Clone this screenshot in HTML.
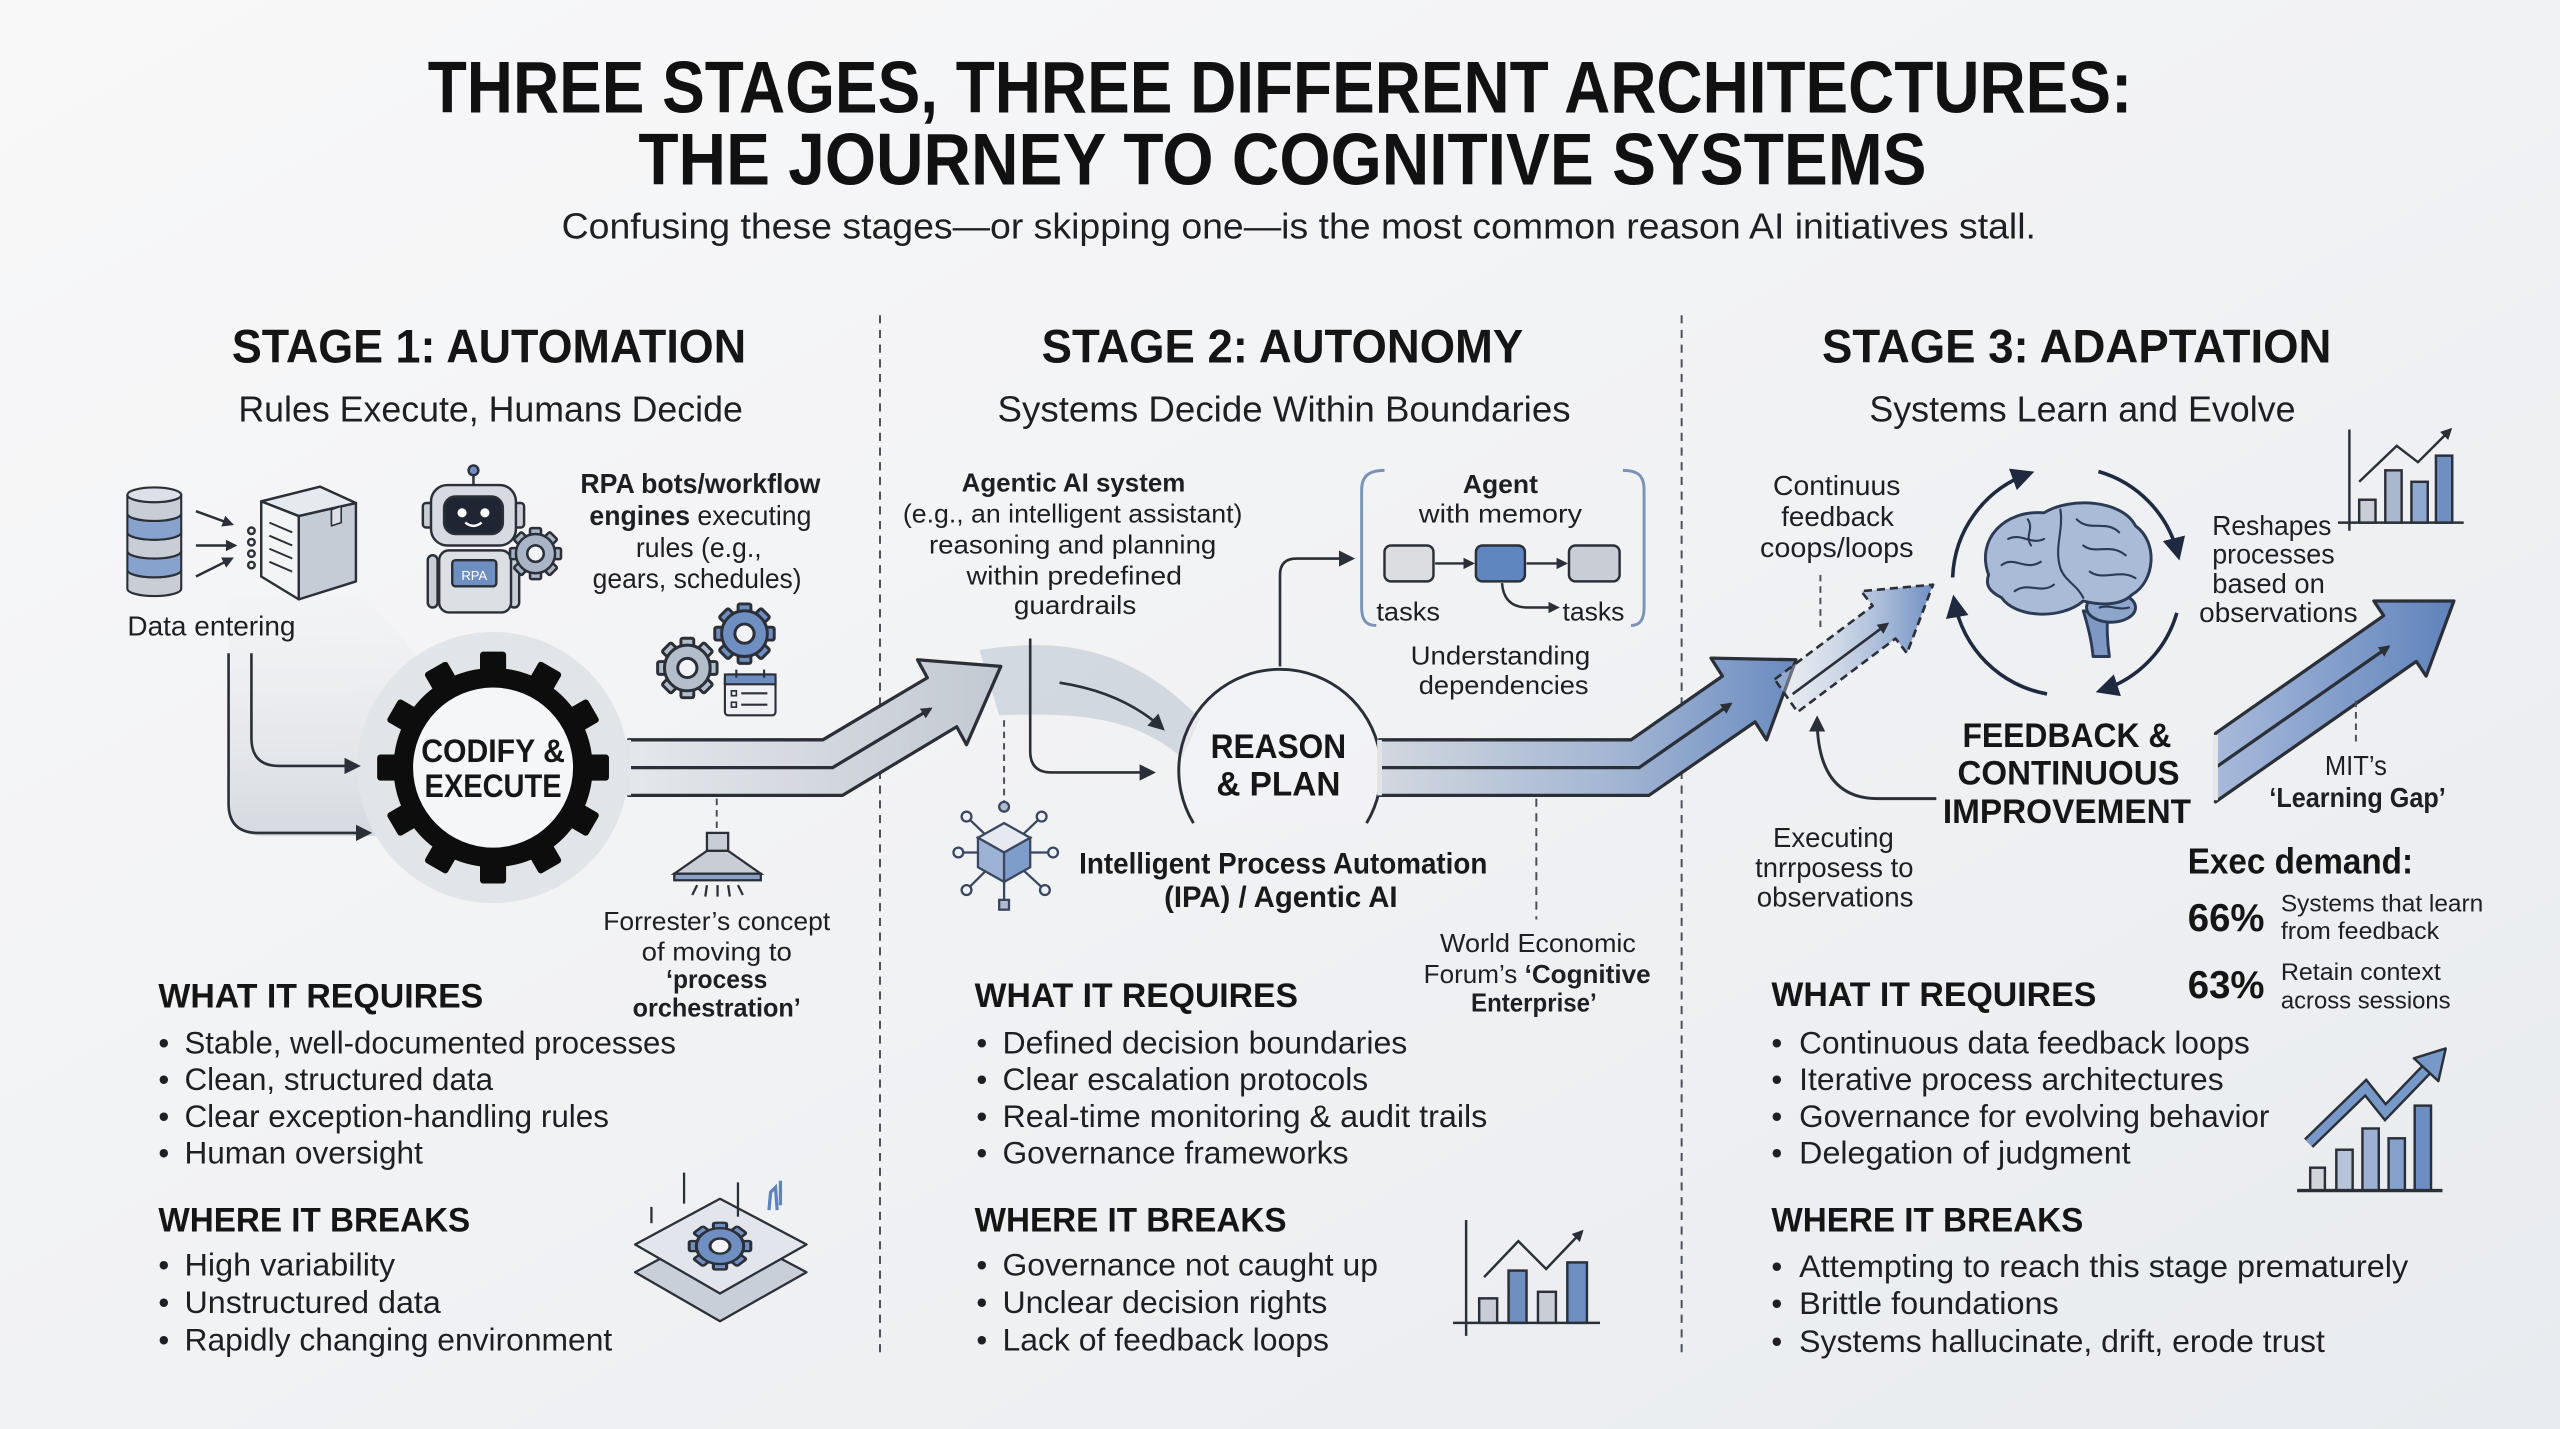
<!DOCTYPE html>
<html>
<head>
<meta charset="utf-8">
<style>
html,body{margin:0;padding:0;background:#f1f2f5;}
svg{display:block;}
</style>
</head>
<body>
<svg xmlns="http://www.w3.org/2000/svg" xmlns:xlink="http://www.w3.org/1999/xlink" width="2560" height="1429" viewBox="0 0 1568 875" preserveAspectRatio="none" font-family="'Liberation Sans', Arial, sans-serif" fill="#1d1f23">
<defs>
  <linearGradient id="bg" x1="0" y1="0" x2="1" y2="1">
    <stop offset="0" stop-color="#f8f8f9"/>
    <stop offset="0.5" stop-color="#f1f2f4"/>
    <stop offset="1" stop-color="#e8ebef"/>
  </linearGradient>
  <linearGradient id="shade1" x1="0" y1="0" x2="0" y2="1">
    <stop offset="0" stop-color="#eceef1" stop-opacity="0.2"/>
    <stop offset="1" stop-color="#d5d9df"/>
  </linearGradient>
  <linearGradient id="b1" gradientUnits="userSpaceOnUse" x1="385" y1="0" x2="615" y2="0">
    <stop offset="0" stop-color="#e4e7eb"/>
    <stop offset="1" stop-color="#c3c9d2"/>
  </linearGradient>
  <linearGradient id="b2" gradientUnits="userSpaceOnUse" x1="845" y1="0" x2="1100" y2="0">
    <stop offset="0" stop-color="#d3d8df"/>
    <stop offset="0.6" stop-color="#9fb3d2"/>
    <stop offset="1" stop-color="#6a8bc0"/>
  </linearGradient>
  <linearGradient id="b3" gradientUnits="userSpaceOnUse" x1="1357" y1="0" x2="1503" y2="0">
    <stop offset="0" stop-color="#a8badb"/>
    <stop offset="1" stop-color="#5f83bb"/>
  </linearGradient>
  <linearGradient id="b4" gradientUnits="userSpaceOnUse" x1="1087" y1="0" x2="1184" y2="0">
    <stop offset="0" stop-color="#e2e7ef" stop-opacity="0.3"/>
    <stop offset="1" stop-color="#6e8fc2"/>
  </linearGradient>
  <marker id="ah" viewBox="0 0 10 10" refX="8" refY="5" markerWidth="10" markerHeight="10" markerUnits="userSpaceOnUse" orient="auto">
    <path d="M0,0 L10,5 L0,10 z" fill="#2b2f38"/>
  </marker>
  <marker id="ahs" viewBox="0 0 10 10" refX="8" refY="5" markerWidth="7" markerHeight="7" markerUnits="userSpaceOnUse" orient="auto">
    <path d="M0,0 L10,5 L0,10 z" fill="#2b2f38"/>
  </marker>
  <marker id="ahb" viewBox="0 0 10 10" refX="7" refY="5" markerWidth="14" markerHeight="14" markerUnits="userSpaceOnUse" orient="auto">
    <path d="M0,0 L10,5 L0,10 z" fill="#1f2a40"/>
  </marker>
  <g id="gear8" stroke="#2b2f38" stroke-width="1.3">
    <rect x="-2.8" y="-13" width="5.6" height="6" rx="0.8"/>
    <rect x="-2.8" y="-13" width="5.6" height="6" rx="0.8" transform="rotate(45)"/>
    <rect x="-2.8" y="-13" width="5.6" height="6" rx="0.8" transform="rotate(90)"/>
    <rect x="-2.8" y="-13" width="5.6" height="6" rx="0.8" transform="rotate(135)"/>
    <rect x="-2.8" y="-13" width="5.6" height="6" rx="0.8" transform="rotate(180)"/>
    <rect x="-2.8" y="-13" width="5.6" height="6" rx="0.8" transform="rotate(225)"/>
    <rect x="-2.8" y="-13" width="5.6" height="6" rx="0.8" transform="rotate(270)"/>
    <rect x="-2.8" y="-13" width="5.6" height="6" rx="0.8" transform="rotate(315)"/>
    <circle r="10"/>
    <circle r="4.2" fill="#f2f3f6"/>
  </g>
</defs>

<rect x="0" y="0" width="1568" height="875" fill="url(#bg)"/>

<!-- TITLE -->
<text x="784" y="69" font-size="45" font-weight="bold" text-anchor="middle" textLength="1044" lengthAdjust="spacingAndGlyphs" fill="#111">THREE STAGES, THREE DIFFERENT ARCHITECTURES:</text>
<text x="785.5" y="113" font-size="45" font-weight="bold" text-anchor="middle" textLength="789" lengthAdjust="spacingAndGlyphs" fill="#111">THE JOURNEY TO COGNITIVE SYSTEMS</text>
<text x="795.5" y="146" font-size="22" text-anchor="middle" textLength="903" lengthAdjust="spacingAndGlyphs">Confusing these stages—or skipping one—is the most common reason AI initiatives stall.</text>

<!-- DIVIDERS -->
<g stroke="#4a4e56" stroke-width="1.2" stroke-dasharray="5,4" fill="none">
  <line x1="539" y1="193" x2="539" y2="831"/>
  <line x1="1030" y1="193" x2="1030" y2="831"/>
</g>

<!-- STAGE HEADINGS -->
<g font-weight="bold" font-size="29" text-anchor="middle" fill="#151515">
  <text x="299.5" y="222" textLength="315" lengthAdjust="spacingAndGlyphs">STAGE 1: AUTOMATION</text>
  <text x="785.5" y="222" textLength="295" lengthAdjust="spacingAndGlyphs">STAGE 2: AUTONOMY</text>
  <text x="1272" y="222" textLength="312" lengthAdjust="spacingAndGlyphs">STAGE 3: ADAPTATION</text>
</g>
<g font-size="22" text-anchor="middle">
  <text x="300.5" y="258" textLength="309" lengthAdjust="spacingAndGlyphs">Rules Execute, Humans Decide</text>
  <text x="786.5" y="258" textLength="351" lengthAdjust="spacingAndGlyphs">Systems Decide Within Boundaries</text>
  <text x="1275.5" y="258" textLength="261" lengthAdjust="spacingAndGlyphs">Systems Learn and Evolve</text>
</g>

<!-- ================= STAGE 1 ================= -->
<!-- shading -->
<path d="M140,366 L222,366 C238,380 252,396 262,412 L262,512 L162,512 Q140,512 140,490 Z" fill="url(#shade1)"/>
<circle cx="302" cy="470" r="83" fill="#e1e4e8"/>

<!-- database -->
<g stroke="#2b2f38" stroke-width="1.3">
  <path d="M78,349 v11.5 a16.5,4.5 0 0 0 33,0 v-11.5 a16.5,4.5 0 0 1 -33,0 z" fill="#c9ced6"/>
  <path d="M78,337.5 v11.5 a16.5,4.5 0 0 0 33,0 v-11.5 a16.5,4.5 0 0 1 -33,0 z" fill="#86a2cd"/>
  <path d="M78,326 v11.5 a16.5,4.5 0 0 0 33,0 v-11.5 a16.5,4.5 0 0 1 -33,0 z" fill="#c9ced6"/>
  <path d="M78,314.5 v11.5 a16.5,4.5 0 0 0 33,0 v-11.5 a16.5,4.5 0 0 1 -33,0 z" fill="#86a2cd"/>
  <path d="M78,303 v11.5 a16.5,4.5 0 0 0 33,0 v-11.5 a16.5,4.5 0 0 1 -33,0 z" fill="#c9ced6"/>
  <ellipse cx="94.5" cy="303" rx="16.5" ry="4.5" fill="#dde1e7"/>
</g>
<!-- arrows into doc -->
<g stroke="#2b2f38" stroke-width="1.5" fill="none">
  <line x1="120" y1="313" x2="142" y2="321" marker-end="url(#ahs)"/>
  <line x1="120" y1="334" x2="144" y2="334" marker-end="url(#ahs)"/>
  <line x1="120" y1="353" x2="142" y2="342" marker-end="url(#ahs)"/>
  <circle cx="154" cy="325" r="2"/>
  <circle cx="154" cy="332" r="2"/>
  <circle cx="154" cy="339" r="2"/>
  <circle cx="154" cy="346" r="2"/>
</g>
<!-- box -->
<g stroke="#2b2f38" stroke-width="1.5" stroke-linejoin="round">
  <polygon points="160,307 196,298 218,308 183,316" fill="#e6e9ed"/>
  <polygon points="160,307 183,316 183,367 160,353" fill="#f3f4f6"/>
  <polygon points="183,316 218,308 218,356 183,367" fill="#c5ccd6"/>
  <g fill="none" stroke-width="1.2">
    <line x1="165" y1="320" x2="179" y2="326"/>
    <line x1="165" y1="328" x2="179" y2="334"/>
    <line x1="165" y1="336" x2="179" y2="342"/>
    <line x1="165" y1="344" x2="179" y2="350"/>
  </g>
  <polygon points="203,312 209,310 209,320 203,322" fill="#dde1e7" stroke-width="1"/>
</g>
<text x="78" y="389" font-size="17" textLength="103" lengthAdjust="spacingAndGlyphs">Data entering</text>

<!-- robot -->
<g stroke="#2b2f38" stroke-width="1.5">
  <line x1="290" y1="291" x2="290" y2="297"/>
  <circle cx="290" cy="288" r="3" fill="#6f8fc2"/>
  <rect x="259" y="308" width="6" height="15" rx="2" fill="#c9ced6"/>
  <rect x="315" y="308" width="6" height="15" rx="2" fill="#c9ced6"/>
  <rect x="264" y="297" width="52" height="37" rx="10" fill="#d7dbe1"/>
  <rect x="272" y="304" width="36" height="23" rx="7" fill="#1f2533"/>
  <rect x="262" y="340" width="6" height="32" rx="3" fill="#c9ced6"/>
  <rect x="312" y="340" width="6" height="32" rx="3" fill="#c9ced6"/>
  <rect x="269" y="337" width="44" height="38" rx="6" fill="#dcdfe4"/>
  <rect x="277" y="343" width="27" height="16" rx="2" fill="#6e8fc2"/>
</g>
<circle cx="283" cy="314" r="2.8" fill="#fff"/>
<circle cx="297" cy="314" r="2.8" fill="#fff"/>
<path d="M285,320 Q290,324 295,320" stroke="#fff" stroke-width="1.5" fill="none"/>
<text x="290.5" y="355" font-size="8" text-anchor="middle" fill="#fff">RPA</text>
<use xlink:href="#gear8" href="#gear8" transform="translate(328,339) scale(1.2)" fill="#a9b5c7"/>

<!-- RPA text -->
<g font-size="17" text-anchor="middle">
  <text x="429" y="302" font-weight="bold" textLength="147" lengthAdjust="spacingAndGlyphs">RPA bots/workflow</text>
  <text x="429" y="321.5" textLength="136" lengthAdjust="spacingAndGlyphs"><tspan font-weight="bold">engines</tspan> executing</text>
  <text x="428" y="341" textLength="77" lengthAdjust="spacingAndGlyphs">rules (e.g.,</text>
  <text x="427" y="360" textLength="128" lengthAdjust="spacingAndGlyphs">gears, schedules)</text>
</g>

<!-- gear icons -->
<use xlink:href="#gear8" href="#gear8" transform="translate(456,388) scale(1.4)" fill="#6f8fc2"/>
<use xlink:href="#gear8" href="#gear8" transform="translate(421,409) scale(1.4)" fill="#b4bdca"/>
<g stroke="#2b2f38" stroke-width="1.3">
  <rect x="444" y="413" width="31" height="25" rx="2" fill="#eef0f3"/>
  <rect x="444" y="413" width="31" height="6" fill="#6f8fc2"/>
  <line x1="451" y1="410" x2="451" y2="415"/>
  <line x1="468" y1="410" x2="468" y2="415"/>
  <rect x="448" y="423" width="3" height="3" fill="none" stroke-width="1"/>
  <rect x="448" y="430" width="3" height="3" fill="none" stroke-width="1"/>
  <line x1="454" y1="424.5" x2="470" y2="424.5"/>
  <line x1="454" y1="431.5" x2="470" y2="431.5"/>
</g>

<!-- lines from data to gear -->
<g stroke="#2b2f38" stroke-width="1.6" fill="none">
  <path d="M140,400 L140,492 Q140,510 158,510 L226,510" marker-end="url(#ah)"/>
  <path d="M154,400 L154,452 Q154,469 171,469 L219,469" marker-end="url(#ah)"/>
</g>

<!-- big gear -->
<g transform="translate(302,470)" fill="#0d0d0d">
  <rect x="-8" y="-71" width="16" height="20" rx="2"/>
  <rect x="-8" y="-71" width="16" height="20" rx="2" transform="rotate(30)"/>
  <rect x="-8" y="-71" width="16" height="20" rx="2" transform="rotate(60)"/>
  <rect x="-8" y="-71" width="16" height="20" rx="2" transform="rotate(90)"/>
  <rect x="-8" y="-71" width="16" height="20" rx="2" transform="rotate(120)"/>
  <rect x="-8" y="-71" width="16" height="20" rx="2" transform="rotate(150)"/>
  <rect x="-8" y="-71" width="16" height="20" rx="2" transform="rotate(180)"/>
  <rect x="-8" y="-71" width="16" height="20" rx="2" transform="rotate(210)"/>
  <rect x="-8" y="-71" width="16" height="20" rx="2" transform="rotate(240)"/>
  <rect x="-8" y="-71" width="16" height="20" rx="2" transform="rotate(270)"/>
  <rect x="-8" y="-71" width="16" height="20" rx="2" transform="rotate(300)"/>
  <rect x="-8" y="-71" width="16" height="20" rx="2" transform="rotate(330)"/>
  <circle r="61"/>
  <circle r="49" fill="#f5f6f8"/>
</g>
<g font-weight="bold" font-size="20" text-anchor="middle" fill="#161616">
  <text x="302" y="466.5" textLength="88" lengthAdjust="spacingAndGlyphs">CODIFY &amp;</text>
  <text x="302" y="488" textLength="84" lengthAdjust="spacingAndGlyphs">EXECUTE</text>
</g>

<!-- stage 2 swoosh (behind) -->
<path d="M600,398 C650,390 692,396 735,440 L724,464 C696,440 664,436 612,438 Z" fill="#cdd3dc" opacity="0.85"/>

<!-- band 1 -->
<polygon points="385,453 504,453 568,415 562,404 613,408 592,456 586,445 516,487 385,487" fill="url(#b1)" stroke="#2b2f38" stroke-width="2" stroke-linejoin="round"/>
<path d="M385,470 L510,470 L570,434" fill="none" stroke="#2b2f38" stroke-width="2" marker-end="url(#ahs)"/>
<line x1="385" y1="453" x2="385" y2="487" stroke="#e1e4e8" stroke-width="3"/>

<!-- lamp -->
<line x1="439" y1="489" x2="439" y2="510" stroke="#4a4e56" stroke-width="1.2" stroke-dasharray="4,3"/>
<g stroke="#2b2f38" stroke-width="1.4">
  <rect x="433" y="510" width="13" height="11" fill="#c9ced6"/>
  <polygon points="433,521 446,521 466,535 413,535" fill="#c9ced6"/>
  <rect x="413" y="535" width="53" height="4" fill="#8aa2c8"/>
  <line x1="427" y1="542" x2="424" y2="548"/>
  <line x1="433" y1="542" x2="432" y2="549"/>
  <line x1="439.5" y1="542" x2="439.5" y2="549"/>
  <line x1="446" y1="542" x2="447" y2="549"/>
  <line x1="452" y1="542" x2="455" y2="548"/>
</g>
<g font-size="16" text-anchor="middle">
  <text x="439" y="569.5" textLength="139" lengthAdjust="spacingAndGlyphs">Forrester’s concept</text>
  <text x="439" y="588" textLength="92" lengthAdjust="spacingAndGlyphs">of moving to</text>
  <text x="439" y="605" font-weight="bold" textLength="62" lengthAdjust="spacingAndGlyphs">‘process</text>
  <text x="439" y="622.5" font-weight="bold" textLength="103" lengthAdjust="spacingAndGlyphs">orchestration’</text>
</g>

<!-- stage 1 lists -->
<g font-size="21" font-weight="bold" fill="#151515">
  <text x="97" y="617" textLength="199" lengthAdjust="spacingAndGlyphs">WHAT IT REQUIRES</text>
  <text x="97" y="754" textLength="191" lengthAdjust="spacingAndGlyphs">WHERE IT BREAKS</text>
</g>
<g font-size="19">
  <text x="97" y="645">•</text><text x="113" y="645" textLength="301" lengthAdjust="spacingAndGlyphs">Stable, well-documented processes</text>
  <text x="97" y="667.5">•</text><text x="113" y="667.5" textLength="189" lengthAdjust="spacingAndGlyphs">Clean, structured data</text>
  <text x="97" y="690">•</text><text x="113" y="690" textLength="260" lengthAdjust="spacingAndGlyphs">Clear exception-handling rules</text>
  <text x="97" y="712.5">•</text><text x="113" y="712.5" textLength="146" lengthAdjust="spacingAndGlyphs">Human oversight</text>
  <text x="97" y="781">•</text><text x="113" y="781" textLength="129" lengthAdjust="spacingAndGlyphs">High variability</text>
  <text x="97" y="804">•</text><text x="113" y="804" textLength="157" lengthAdjust="spacingAndGlyphs">Unstructured data</text>
  <text x="97" y="827">•</text><text x="113" y="827" textLength="262" lengthAdjust="spacingAndGlyphs">Rapidly changing environment</text>
</g>

<!-- diamond icon -->
<g stroke="#2b2f38" stroke-width="1.4" stroke-linejoin="round">
  <polygon points="441,751 494,779 441,809 389,779" fill="#c9cfd8"/>
  <polygon points="441,734 494,762 441,792 389,762" fill="#e2e6ec"/>
  <line x1="419" y1="718" x2="419" y2="737"/>
  <line x1="452" y1="724" x2="452" y2="745"/>
  <line x1="399" y1="739" x2="399" y2="749"/>
</g>
<use xlink:href="#gear8" href="#gear8" transform="translate(441,763) scale(1.45,1.1)" fill="#6f8fc2"/>
<path d="M471,741 L472,730 L475,727 L476,741 M478,738 L478,723" stroke="#5f83bb" stroke-width="2" fill="none"/>

<!-- ================= STAGE 2 ================= -->
<g font-size="16" text-anchor="middle">
  <text x="657.5" y="301" font-weight="bold" textLength="137" lengthAdjust="spacingAndGlyphs">Agentic AI system</text>
  <text x="657" y="320" textLength="208" lengthAdjust="spacingAndGlyphs">(e.g., an intelligent assistant)</text>
  <text x="657" y="339" textLength="176" lengthAdjust="spacingAndGlyphs">reasoning and planning</text>
  <text x="658" y="358" textLength="132" lengthAdjust="spacingAndGlyphs">within predefined</text>
  <text x="658.5" y="376" textLength="75" lengthAdjust="spacingAndGlyphs">guardrails</text>
</g>

<!-- arrows into reason -->
<g stroke="#2b2f38" stroke-width="1.6" fill="none">
  <path d="M631,391 L631,460 Q631,473 644,473 L706,473" marker-end="url(#ah)"/>
  <path d="M649,418 Q688,424 712,446" marker-end="url(#ah)"/>
</g>

<!-- reason circle -->
<path d="M731,504 A62,62 0 1 1 837,504" fill="#f3f4f6" fill-opacity="0.6" stroke="#2b2f38" stroke-width="1.8"/>
<g font-weight="bold" font-size="21" text-anchor="middle" fill="#161616">
  <text x="783" y="464" textLength="83" lengthAdjust="spacingAndGlyphs">REASON</text>
  <text x="783" y="487" textLength="76" lengthAdjust="spacingAndGlyphs">&amp; PLAN</text>
</g>
<path d="M784,408 L784,352 Q784,342 794,342 L828,342" stroke="#2b2f38" stroke-width="1.6" fill="none" marker-end="url(#ah)"/>

<!-- agent bracket -->
<g stroke="#7c93b8" stroke-width="1.8" fill="none">
  <path d="M848,288 C838,288 834,292 834,300 L834,372 C834,380 837,383 843,383"/>
  <path d="M994,288 C1004,288 1007,292 1007,300 L1007,372 C1007,380 1004,383 999,383"/>
</g>
<g font-size="16" text-anchor="middle">
  <text x="919" y="302" font-weight="bold" textLength="46" lengthAdjust="spacingAndGlyphs">Agent</text>
  <text x="919" y="320" textLength="100" lengthAdjust="spacingAndGlyphs">with memory</text>
  <text x="862.5" y="380" textLength="39" lengthAdjust="spacingAndGlyphs">tasks</text>
  <text x="976" y="380" textLength="38" lengthAdjust="spacingAndGlyphs">tasks</text>
  <text x="919" y="407" textLength="110" lengthAdjust="spacingAndGlyphs">Understanding</text>
  <text x="921" y="425" textLength="104" lengthAdjust="spacingAndGlyphs">dependencies</text>
</g>
<g stroke="#2b2f38" stroke-width="1.5">
  <rect x="848" y="334" width="30" height="22" rx="4" fill="#dcdde0"/>
  <rect x="904" y="334" width="30" height="22" rx="4" fill="#5f86bf"/>
  <rect x="961" y="334" width="31" height="22" rx="4" fill="#c9ced6"/>
  <line x1="879" y1="345" x2="902" y2="345" marker-end="url(#ahs)"/>
  <line x1="935" y1="345" x2="959" y2="345" marker-end="url(#ahs)"/>
  <path d="M920,357 Q921,372 936,372 L954,372" fill="none" marker-end="url(#ahs)"/>
</g>

<!-- IPA icon -->
<line x1="615" y1="441" x2="615" y2="491" stroke="#4a4e56" stroke-width="1.2" stroke-dasharray="4,3"/>
<g stroke="#3a4660" stroke-width="1.4">
  <line x1="615" y1="522" x2="592" y2="500"/>
  <line x1="615" y1="522" x2="638" y2="500"/>
  <line x1="615" y1="522" x2="587" y2="522"/>
  <line x1="615" y1="522" x2="645" y2="522"/>
  <line x1="615" y1="522" x2="592" y2="545"/>
  <line x1="615" y1="522" x2="640" y2="545"/>
  <line x1="615" y1="522" x2="615" y2="553"/>
  <circle cx="615" cy="494" r="3" fill="#b0bccd"/>
  <circle cx="592" cy="500" r="3" fill="#eef0f3"/>
  <circle cx="638" cy="500" r="3" fill="#eef0f3"/>
  <circle cx="587" cy="522" r="3" fill="#eef0f3"/>
  <circle cx="645" cy="522" r="3" fill="#eef0f3"/>
  <circle cx="592" cy="545" r="3" fill="#eef0f3"/>
  <circle cx="640" cy="545" r="3" fill="#eef0f3"/>
  <rect x="612" y="551" width="6" height="6" fill="#b0bccd"/>
  <polygon points="615,504 631,513 615,522 599,513" fill="#e6eaf0"/>
  <polygon points="599,513 615,522 615,540 599,531" fill="#9db3d6"/>
  <polygon points="615,522 631,513 631,531 615,540" fill="#7f9dca"/>
</g>
<g font-size="18" font-weight="bold" text-anchor="middle" fill="#1a1a1a">
  <text x="786" y="535" textLength="250" lengthAdjust="spacingAndGlyphs">Intelligent Process Automation</text>
  <text x="784.5" y="555.5" textLength="143" lengthAdjust="spacingAndGlyphs">(IPA) / Agentic AI</text>
</g>

<!-- band 2 -->
<polygon points="845,453 999,453 1055,414 1048,403 1100,404 1082,453 1075,442 1010,487 845,487" fill="url(#b2)" stroke="#2b2f38" stroke-width="2" stroke-linejoin="round"/>
<path d="M845,470 L1004,470 L1060,431" fill="none" stroke="#2b2f38" stroke-width="2" marker-end="url(#ahs)"/>
<line x1="845" y1="453" x2="845" y2="487" stroke="#dfe3e8" stroke-width="3"/>

<!-- WEF -->
<line x1="941" y1="489" x2="941" y2="563" stroke="#4a4e56" stroke-width="1.2" stroke-dasharray="5,4"/>
<g font-size="16" text-anchor="middle">
  <text x="942" y="583" textLength="120" lengthAdjust="spacingAndGlyphs">World Economic</text>
  <text x="941.5" y="602" textLength="139" lengthAdjust="spacingAndGlyphs">Forum’s <tspan font-weight="bold">‘Cognitive</tspan></text>
  <text x="939.5" y="619.5" font-weight="bold" textLength="77" lengthAdjust="spacingAndGlyphs">Enterprise’</text>
</g>

<!-- stage 2 lists -->
<g font-size="21" font-weight="bold" fill="#151515">
  <text x="597" y="616.5" textLength="198" lengthAdjust="spacingAndGlyphs">WHAT IT REQUIRES</text>
  <text x="597" y="754" textLength="191" lengthAdjust="spacingAndGlyphs">WHERE IT BREAKS</text>
</g>
<g font-size="19">
  <text x="598" y="645">•</text><text x="614" y="645" textLength="248" lengthAdjust="spacingAndGlyphs">Defined decision boundaries</text>
  <text x="598" y="667.5">•</text><text x="614" y="667.5" textLength="224" lengthAdjust="spacingAndGlyphs">Clear escalation protocols</text>
  <text x="598" y="690">•</text><text x="614" y="690" textLength="297" lengthAdjust="spacingAndGlyphs">Real-time monitoring &amp; audit trails</text>
  <text x="598" y="712.5">•</text><text x="614" y="712.5" textLength="212" lengthAdjust="spacingAndGlyphs">Governance frameworks</text>
  <text x="598" y="781">•</text><text x="614" y="781" textLength="230" lengthAdjust="spacingAndGlyphs">Governance not caught up</text>
  <text x="598" y="804">•</text><text x="614" y="804" textLength="199" lengthAdjust="spacingAndGlyphs">Unclear decision rights</text>
  <text x="598" y="827">•</text><text x="614" y="827" textLength="200" lengthAdjust="spacingAndGlyphs">Lack of feedback loops</text>
</g>

<!-- stage 2 chart -->
<g stroke="#2b2f38" stroke-width="1.5">
  <line x1="898" y1="747" x2="898" y2="818"/>
  <line x1="890" y1="810" x2="980" y2="810"/>
  <rect x="906" y="795" width="11" height="15" fill="#c9ced6"/>
  <rect x="924" y="778" width="11" height="32" fill="#6f8fc2"/>
  <rect x="942" y="791" width="11" height="19" fill="#c9ced6"/>
  <rect x="960" y="773" width="12" height="37" fill="#6f8fc2"/>
  <polyline points="909,782 930,760 947,777 969,754" fill="none" marker-end="url(#ahs)"/>
</g>

<!-- ================= STAGE 3 ================= -->
<g font-size="17" text-anchor="middle">
  <text x="1125" y="303" textLength="78" lengthAdjust="spacingAndGlyphs">Continuus</text>
  <text x="1125.5" y="322" textLength="69" lengthAdjust="spacingAndGlyphs">feedback</text>
  <text x="1125" y="341" textLength="94" lengthAdjust="spacingAndGlyphs">coops/loops</text>
</g>
<line x1="1115" y1="352" x2="1115" y2="386" stroke="#4a4e56" stroke-width="1.2" stroke-dasharray="4,3"/>

<!-- dashed arrow into brain -->
<polygon points="1087,416 1147,371 1140,362 1184,358 1168,400 1161,391 1101,436" fill="url(#b4)" stroke="#2b2f38" stroke-width="1.6" stroke-dasharray="5,3" stroke-linejoin="round"/>
<path d="M1098,425 L1156,382" stroke="#2b2f38" stroke-width="1.6" fill="none" marker-end="url(#ahs)"/>

<!-- brain -->
<g stroke="#2b3a55" stroke-width="1.8" stroke-linejoin="round">
  <path d="M1276,374 Q1281,390 1282,402 L1292,402 Q1290,388 1291,376 Z" fill="#7f98c3"/>
  <ellipse cx="1293" cy="372" rx="15" ry="9" fill="#8ea6cc"/>
  <path d="M1218,352 C1210,330 1228,312 1252,314 C1268,304 1300,306 1308,322 C1322,332 1320,356 1306,364 C1298,372 1284,370 1276,368 C1262,380 1234,378 1226,366 C1218,362 1216,358 1218,352 Z" fill="#aabbd7"/>
</g>
<g stroke="#2b3a55" stroke-width="1.3" fill="none" stroke-linecap="round">
  <path d="M1262,312 C1264,325 1258,335 1262,348 C1265,356 1272,358 1276,366"/>
  <path d="M1230,330 C1238,326 1244,334 1252,330"/>
  <path d="M1226,346 C1234,340 1240,350 1250,344"/>
  <path d="M1234,362 C1242,356 1250,364 1258,358"/>
  <path d="M1272,318 C1280,326 1290,318 1298,326"/>
  <path d="M1276,334 C1284,340 1292,332 1302,340"/>
  <path d="M1280,350 C1288,356 1298,348 1308,354"/>
  <path d="M1242,318 C1246,324 1240,328 1244,334"/>
  <path d="M1286,372 C1292,370 1298,374 1304,372"/>
</g>

<!-- circular arrows -->
<g stroke="#1f2a40" stroke-width="2.2" fill="none">
  <path d="M1196,353.6 A70,70 0 0 1 1242.1,290.2" marker-end="url(#ahb)"/>
  <path d="M1285.3,288.7 A70,70 0 0 1 1333.9,339.1" marker-end="url(#ahb)"/>
  <path d="M1333.3,375.3 A70,70 0 0 1 1287.6,422.6" marker-end="url(#ahb)"/>
  <path d="M1253.8,424.9 A70,70 0 0 1 1197.1,368.2" marker-end="url(#ahb)"/>
</g>

<g font-size="17" text-anchor="middle">
  <text x="1391.5" y="327.5" textLength="73" lengthAdjust="spacingAndGlyphs">Reshapes</text>
  <text x="1392.5" y="345" textLength="75" lengthAdjust="spacingAndGlyphs">processes</text>
  <text x="1389.5" y="363" textLength="69" lengthAdjust="spacingAndGlyphs">based on</text>
  <text x="1395.5" y="381" textLength="97" lengthAdjust="spacingAndGlyphs">observations</text>
</g>

<!-- top chart stage 3 -->
<g stroke="#2b2f38" stroke-width="1.5">
  <line x1="1439" y1="263" x2="1439" y2="325"/>
  <line x1="1432" y1="320" x2="1509" y2="320"/>
  <rect x="1445" y="306" width="10" height="14" fill="#c9ced6"/>
  <rect x="1461" y="288" width="10" height="32" fill="#a9b8cf"/>
  <rect x="1477" y="295" width="10" height="25" fill="#8ea8cf"/>
  <rect x="1492" y="279" width="10" height="41" fill="#6f8fc2"/>
  <polyline points="1445,295 1468,273 1481,283 1501,263" fill="none" marker-end="url(#ahs)"/>
</g>

<!-- stage 3 big arrow -->
<polygon points="1357,449 1460,377 1454,368 1503,368 1486,414 1480,405 1357,491" fill="url(#b3)" stroke="#2b2f38" stroke-width="2" stroke-linejoin="round"/>
<path d="M1357,470 L1463,396" fill="none" stroke="#2b2f38" stroke-width="2" marker-end="url(#ahs)"/>
<line x1="1357" y1="450" x2="1357" y2="490" stroke="#e4e7eb" stroke-width="3"/>

<!-- feedback label -->
<g font-weight="bold" font-size="21" text-anchor="middle" fill="#161616">
  <text x="1266" y="457.5" textLength="128" lengthAdjust="spacingAndGlyphs">FEEDBACK &amp;</text>
  <text x="1267" y="480.5" textLength="136" lengthAdjust="spacingAndGlyphs">CONTINUOUS</text>
  <text x="1266" y="504" textLength="152" lengthAdjust="spacingAndGlyphs">IMPROVEMENT</text>
</g>
<path d="M1186,489 L1150,489 Q1113,489 1113,440" stroke="#2b2f38" stroke-width="1.8" fill="none" marker-end="url(#ah)"/>

<g font-size="17" text-anchor="middle">
  <text x="1123" y="518.5" textLength="74" lengthAdjust="spacingAndGlyphs">Executing</text>
  <text x="1123.5" y="537" textLength="97" lengthAdjust="spacingAndGlyphs">tnrrposess to</text>
  <text x="1124" y="555" textLength="96" lengthAdjust="spacingAndGlyphs">observations</text>
</g>

<line x1="1443" y1="429" x2="1443" y2="457" stroke="#4a4e56" stroke-width="1.2" stroke-dasharray="4,3"/>
<g font-size="17" text-anchor="middle">
  <text x="1443" y="474.5" textLength="38" lengthAdjust="spacingAndGlyphs">MIT’s</text>
  <text x="1444" y="494" font-weight="bold" textLength="108" lengthAdjust="spacingAndGlyphs">‘Learning Gap’</text>
</g>

<!-- exec demand -->
<text x="1340" y="535" font-size="22" font-weight="bold" textLength="138" lengthAdjust="spacingAndGlyphs" fill="#151515">Exec demand:</text>
<text x="1340" y="570" font-size="24" font-weight="bold" textLength="47" lengthAdjust="spacingAndGlyphs" fill="#151515">66%</text>
<text x="1340" y="611" font-size="24" font-weight="bold" textLength="47" lengthAdjust="spacingAndGlyphs" fill="#151515">63%</text>
<g font-size="15">
  <text x="1397" y="558" textLength="124" lengthAdjust="spacingAndGlyphs">Systems that learn</text>
  <text x="1397" y="575" textLength="97" lengthAdjust="spacingAndGlyphs">from feedback</text>
  <text x="1397" y="600" textLength="98" lengthAdjust="spacingAndGlyphs">Retain context</text>
  <text x="1397" y="617.5" textLength="104" lengthAdjust="spacingAndGlyphs">across sessions</text>
</g>

<!-- stage 3 lists -->
<g font-size="21" font-weight="bold" fill="#151515">
  <text x="1085" y="616" textLength="199" lengthAdjust="spacingAndGlyphs">WHAT IT REQUIRES</text>
  <text x="1085" y="754" textLength="191" lengthAdjust="spacingAndGlyphs">WHERE IT BREAKS</text>
</g>
<g font-size="19">
  <text x="1085" y="645">•</text><text x="1102" y="645" textLength="276" lengthAdjust="spacingAndGlyphs">Continuous data feedback loops</text>
  <text x="1085" y="667.5">•</text><text x="1102" y="667.5" textLength="260" lengthAdjust="spacingAndGlyphs">Iterative process architectures</text>
  <text x="1085" y="690">•</text><text x="1102" y="690" textLength="288" lengthAdjust="spacingAndGlyphs">Governance for evolving behavior</text>
  <text x="1085" y="712.5">•</text><text x="1102" y="712.5" textLength="203" lengthAdjust="spacingAndGlyphs">Delegation of judgment</text>
  <text x="1085" y="782">•</text><text x="1102" y="782" textLength="373" lengthAdjust="spacingAndGlyphs">Attempting to reach this stage prematurely</text>
  <text x="1085" y="804.5">•</text><text x="1102" y="804.5" textLength="159" lengthAdjust="spacingAndGlyphs">Brittle foundations</text>
  <text x="1085" y="828">•</text><text x="1102" y="828" textLength="322" lengthAdjust="spacingAndGlyphs">Systems hallucinate, drift, erode trust</text>
</g>

<!-- bottom chart stage 3 -->
<g stroke="#2b2f38" stroke-width="1.5">
  <rect x="1415" y="715" width="9" height="14" fill="#d0d4db"/>
  <rect x="1431" y="704" width="10" height="25" fill="#b7c3d6"/>
  <rect x="1447" y="691" width="10" height="38" fill="#9cb2d4"/>
  <rect x="1463" y="697" width="10" height="32" fill="#86a1cc"/>
  <rect x="1479" y="677" width="10" height="52" fill="#6d8ec3"/>
  <line x1="1407" y1="729" x2="1496" y2="729" stroke-width="2"/>
</g>
<polyline points="1414,700 1449,666 1461,681 1488,653" fill="none" stroke="#2b2f38" stroke-width="8" stroke-linejoin="miter"/>
<polyline points="1414,700 1449,666 1461,681 1488,653" fill="none" stroke="#7799c9" stroke-width="5" stroke-linejoin="miter"/>
<polygon points="1498,642 1493.5,662 1478.5,648" fill="#7799c9" stroke="#2b2f38" stroke-width="1.5" stroke-linejoin="round"/>

</svg>
</body>
</html>
